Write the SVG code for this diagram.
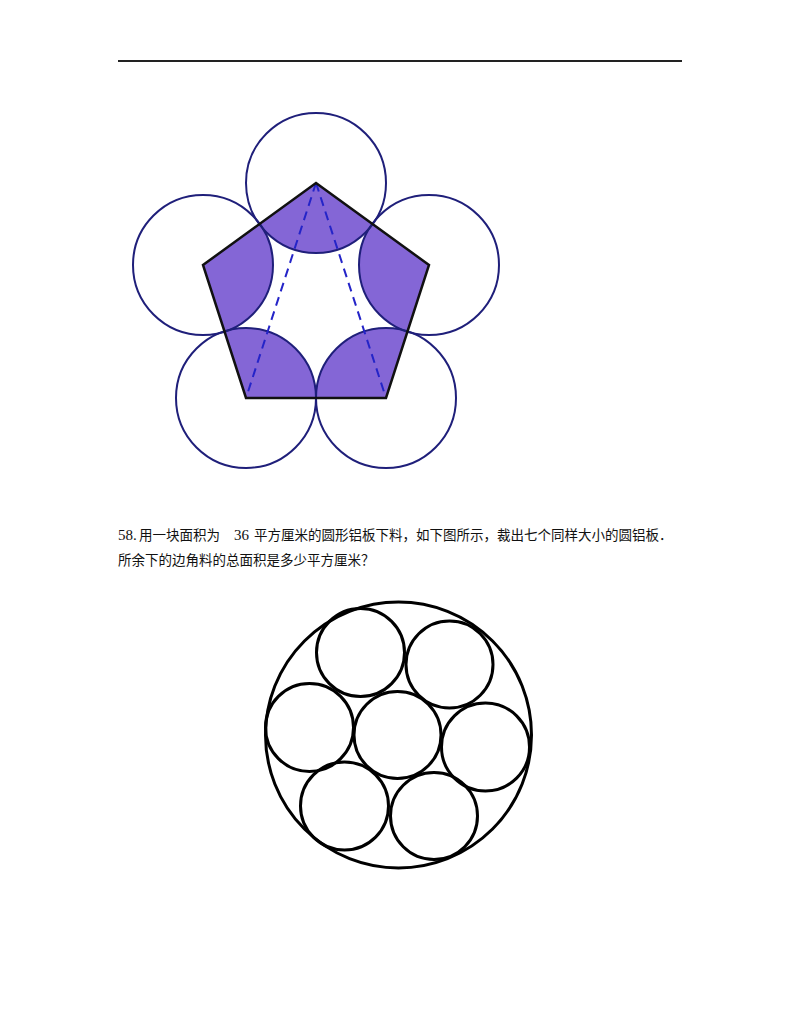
<svg xmlns="http://www.w3.org/2000/svg" width="800" height="1035" viewBox="0 0 800 1035">
<style>
.vc{fill:none;stroke:#1f1f7a;stroke-width:2}
.dash{stroke:#2424c8;stroke-width:2;stroke-dasharray:9,6;fill:none}
.oc{fill:none;stroke:#000;stroke-width:3}
.txt{font-family:"Liberation Serif","Noto Sans CJK SC",serif;font-size:13.5px;fill:#111}
.num{font-size:15px}
</style>
<defs>
<clipPath id="pentClip"><polygon points="316,183 429,265 386,398 246,398 203,265"/></clipPath>
</defs>
<rect width="800" height="1035" fill="#fff"/>
<line x1="118" y1="61" x2="682" y2="61" stroke="#222" stroke-width="2"/>
<g id="figure1">
<g id="pentagon-fill">
<polygon points="316,183 429,265 386,398 246,398 203,265" fill="#fff"/>
<g clip-path="url(#pentClip)" fill="#8466d6">
<circle cx="316" cy="183" r="70"/>
<circle cx="429" cy="265" r="70"/>
<circle cx="386" cy="398" r="70"/>
<circle cx="246" cy="398" r="70"/>
<circle cx="203" cy="265" r="70"/>
</g>
</g>
<g id="vertex-circles">
<circle class="vc" cx="316" cy="183" r="70"/>
<circle class="vc" cx="429" cy="265" r="70"/>
<circle class="vc" cx="386" cy="398" r="70"/>
<circle class="vc" cx="246" cy="398" r="70"/>
<circle class="vc" cx="203" cy="265" r="70"/>
</g>
<g id="dashed-lines">
<line class="dash" x1="316" y1="183" x2="246" y2="398"/>
<line class="dash" x1="316" y1="183" x2="386" y2="398"/>
</g>
<polygon id="pentagon" points="316,183 429,265 386,398 246,398 203,265" fill="none" stroke="#111" stroke-width="2.5" stroke-linejoin="miter"/>
</g>
<g id="question">
<text class="txt" y="540"><tspan x="118" class="num" font-size="14">58.</tspan><tspan x="139">用一块面积为</tspan><tspan x="234" class="num">36</tspan><tspan x="254">平方厘米的圆形铝板下料，如下图所示，裁出七个同样大小的圆铝板．</tspan></text>
<text class="txt" x="118" y="565">所余下的边角料的总面积是多少平方厘米？</text>
</g>
<g id="figure2">
<circle id="outer" class="oc" cx="398.5" cy="735" r="133"/>
<circle id="c-center" class="oc" cx="397.5" cy="735" r="43.5"/>
<circle id="c-tl" class="oc" cx="360.5" cy="652.5" r="44"/>
<circle id="c-tr" class="oc" cx="449.5" cy="664.5" r="43.5"/>
<circle id="c-l" class="oc" cx="309.5" cy="727.5" r="44"/>
<circle id="c-r" class="oc" cx="485.5" cy="747" r="44"/>
<circle id="c-bl" class="oc" cx="344.5" cy="806" r="44"/>
<circle id="c-br" class="oc" cx="434" cy="816" r="43.5"/>
</g>
</svg>
